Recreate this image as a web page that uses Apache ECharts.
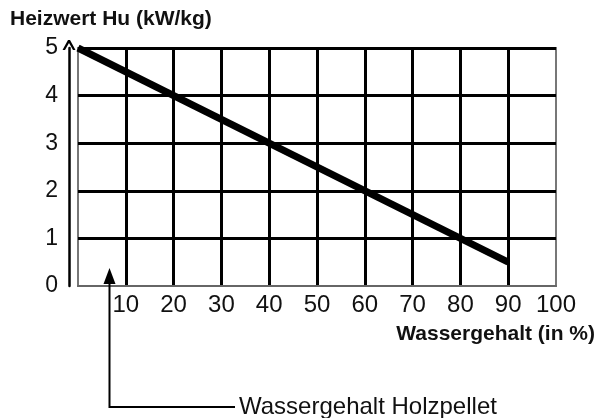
<!DOCTYPE html>
<html>
<head>
<meta charset="utf-8">
<script src="https://cdn.jsdelivr.net/npm/echarts@6/dist/echarts.min.js"></script>
<style>
  html, body { margin: 0; padding: 0; background: #fff; }
  #heizwert_chart { width: 600px; height: 418px; }
</style>
</head>
<body>
<div id="heizwert_chart"></div>
<script>
// Wassergehalt (%) -> Heizwert Hu (kW/kg)
var wassergehalt = [0, 90];
var heizwert = [5, 0.5];
// Wassergehalt Holzpellet (annotation arrow)
var pelletWasser = 6.5;

var FONT = "Liberation Sans, Arial, sans-serif";

var chart = echarts.init(document.getElementById("heizwert_chart"));

var option = {
  animation: false,
  backgroundColor: "#fff",
  title: [
    {
      text: "Heizwert Hu (kW/kg)",
      left: 5,
      top: 4,
      textStyle: { fontFamily: FONT, fontSize: 21, fontWeight: "bold", color: "#111" },
    },
    {
      text: "Wassergehalt (in %)",
      right: 0,
      top: 319,
      textStyle: { fontFamily: FONT, fontSize: 21, fontWeight: "bold", color: "#111" },
    },
  ],
  grid: {
    left: 78,
    right: 44,
    top: 48,
    bottom: 132,
    show: true,
    borderColor: "#777",
    borderWidth: 2,
  },
  xAxis: {
    type: "value",
    min: 0,
    max: 100,
    interval: 10,
    axisLine: { show: true, lineStyle: { color: "#666", width: 2 } },
    axisTick: { show: false },
    axisLabel: {
      showMinLabel: false,
      margin: 7,
      color: "#111",
      fontFamily: FONT,
      fontSize: 24,
    },
    splitLine: {
      show: true,
      showMinLine: false,
      showMaxLine: false,
      lineStyle: { color: "#000", width: 3 },
    },
  },
  yAxis: {
    type: "value",
    min: 0,
    max: 5,
    interval: 1,
    offset: 9,
    axisLine: {
      show: true,
      onZero: false,
      symbol: ["none", "path://M0,10 L5.5,0 L7.5,0 L13,10 L10.5,10 L6.5,3 L2.5,10 Z"],
      symbolSize: [13, 11],
      symbolOffset: [0, 3],
      lineStyle: { color: "#000", width: 2.5 },
    },
    axisTick: { show: false },
    axisLabel: {
      margin: 11,
      color: "#111",
      fontFamily: FONT,
      fontSize: 23,
    },
    splitLine: {
      show: true,
      showMinLine: false,
      lineStyle: { color: "#000", width: 3 },
    },
  },
  series: [
    {
      type: "line",
      data: wassergehalt.map(function (x, i) {
        return [x, heizwert[i]];
      }),
      symbol: "none",
      lineStyle: { color: "#000", width: 7, cap: "butt" },
      z: 5,
    },
  ],
};

chart.setOption(option);

// Annotation: arrow at the pellet water content with an elbow leader to the label
var ax = Math.round(chart.convertToPixel({ xAxisIndex: 0 }, pelletWasser)) + 0.5;
var axisY = chart.convertToPixel({ yAxisIndex: 0 }, 0);
var tipY = axisY - 18;
var elbowY = 407;
chart.setOption({
  graphic: [
    {
      type: "polyline",
      shape: { points: [[ax, tipY + 10], [ax, elbowY], [235, elbowY]] },
      style: { stroke: "#000", lineWidth: 2, fill: null },
      z: 10,
    },
    {
      type: "polygon",
      shape: { points: [[ax - 6, tipY + 16], [ax, tipY], [ax + 6, tipY + 16]] },
      style: { fill: "#000" },
      z: 10,
    },
    {
      type: "text",
      x: 239,
      y: elbowY,
      style: {
        text: "Wassergehalt Holzpellet",
        fontFamily: FONT,
        fontSize: 24,
        fill: "#111",
        verticalAlign: "middle",
      },
      z: 10,
    },
  ],
});
</script>
</body>
</html>
